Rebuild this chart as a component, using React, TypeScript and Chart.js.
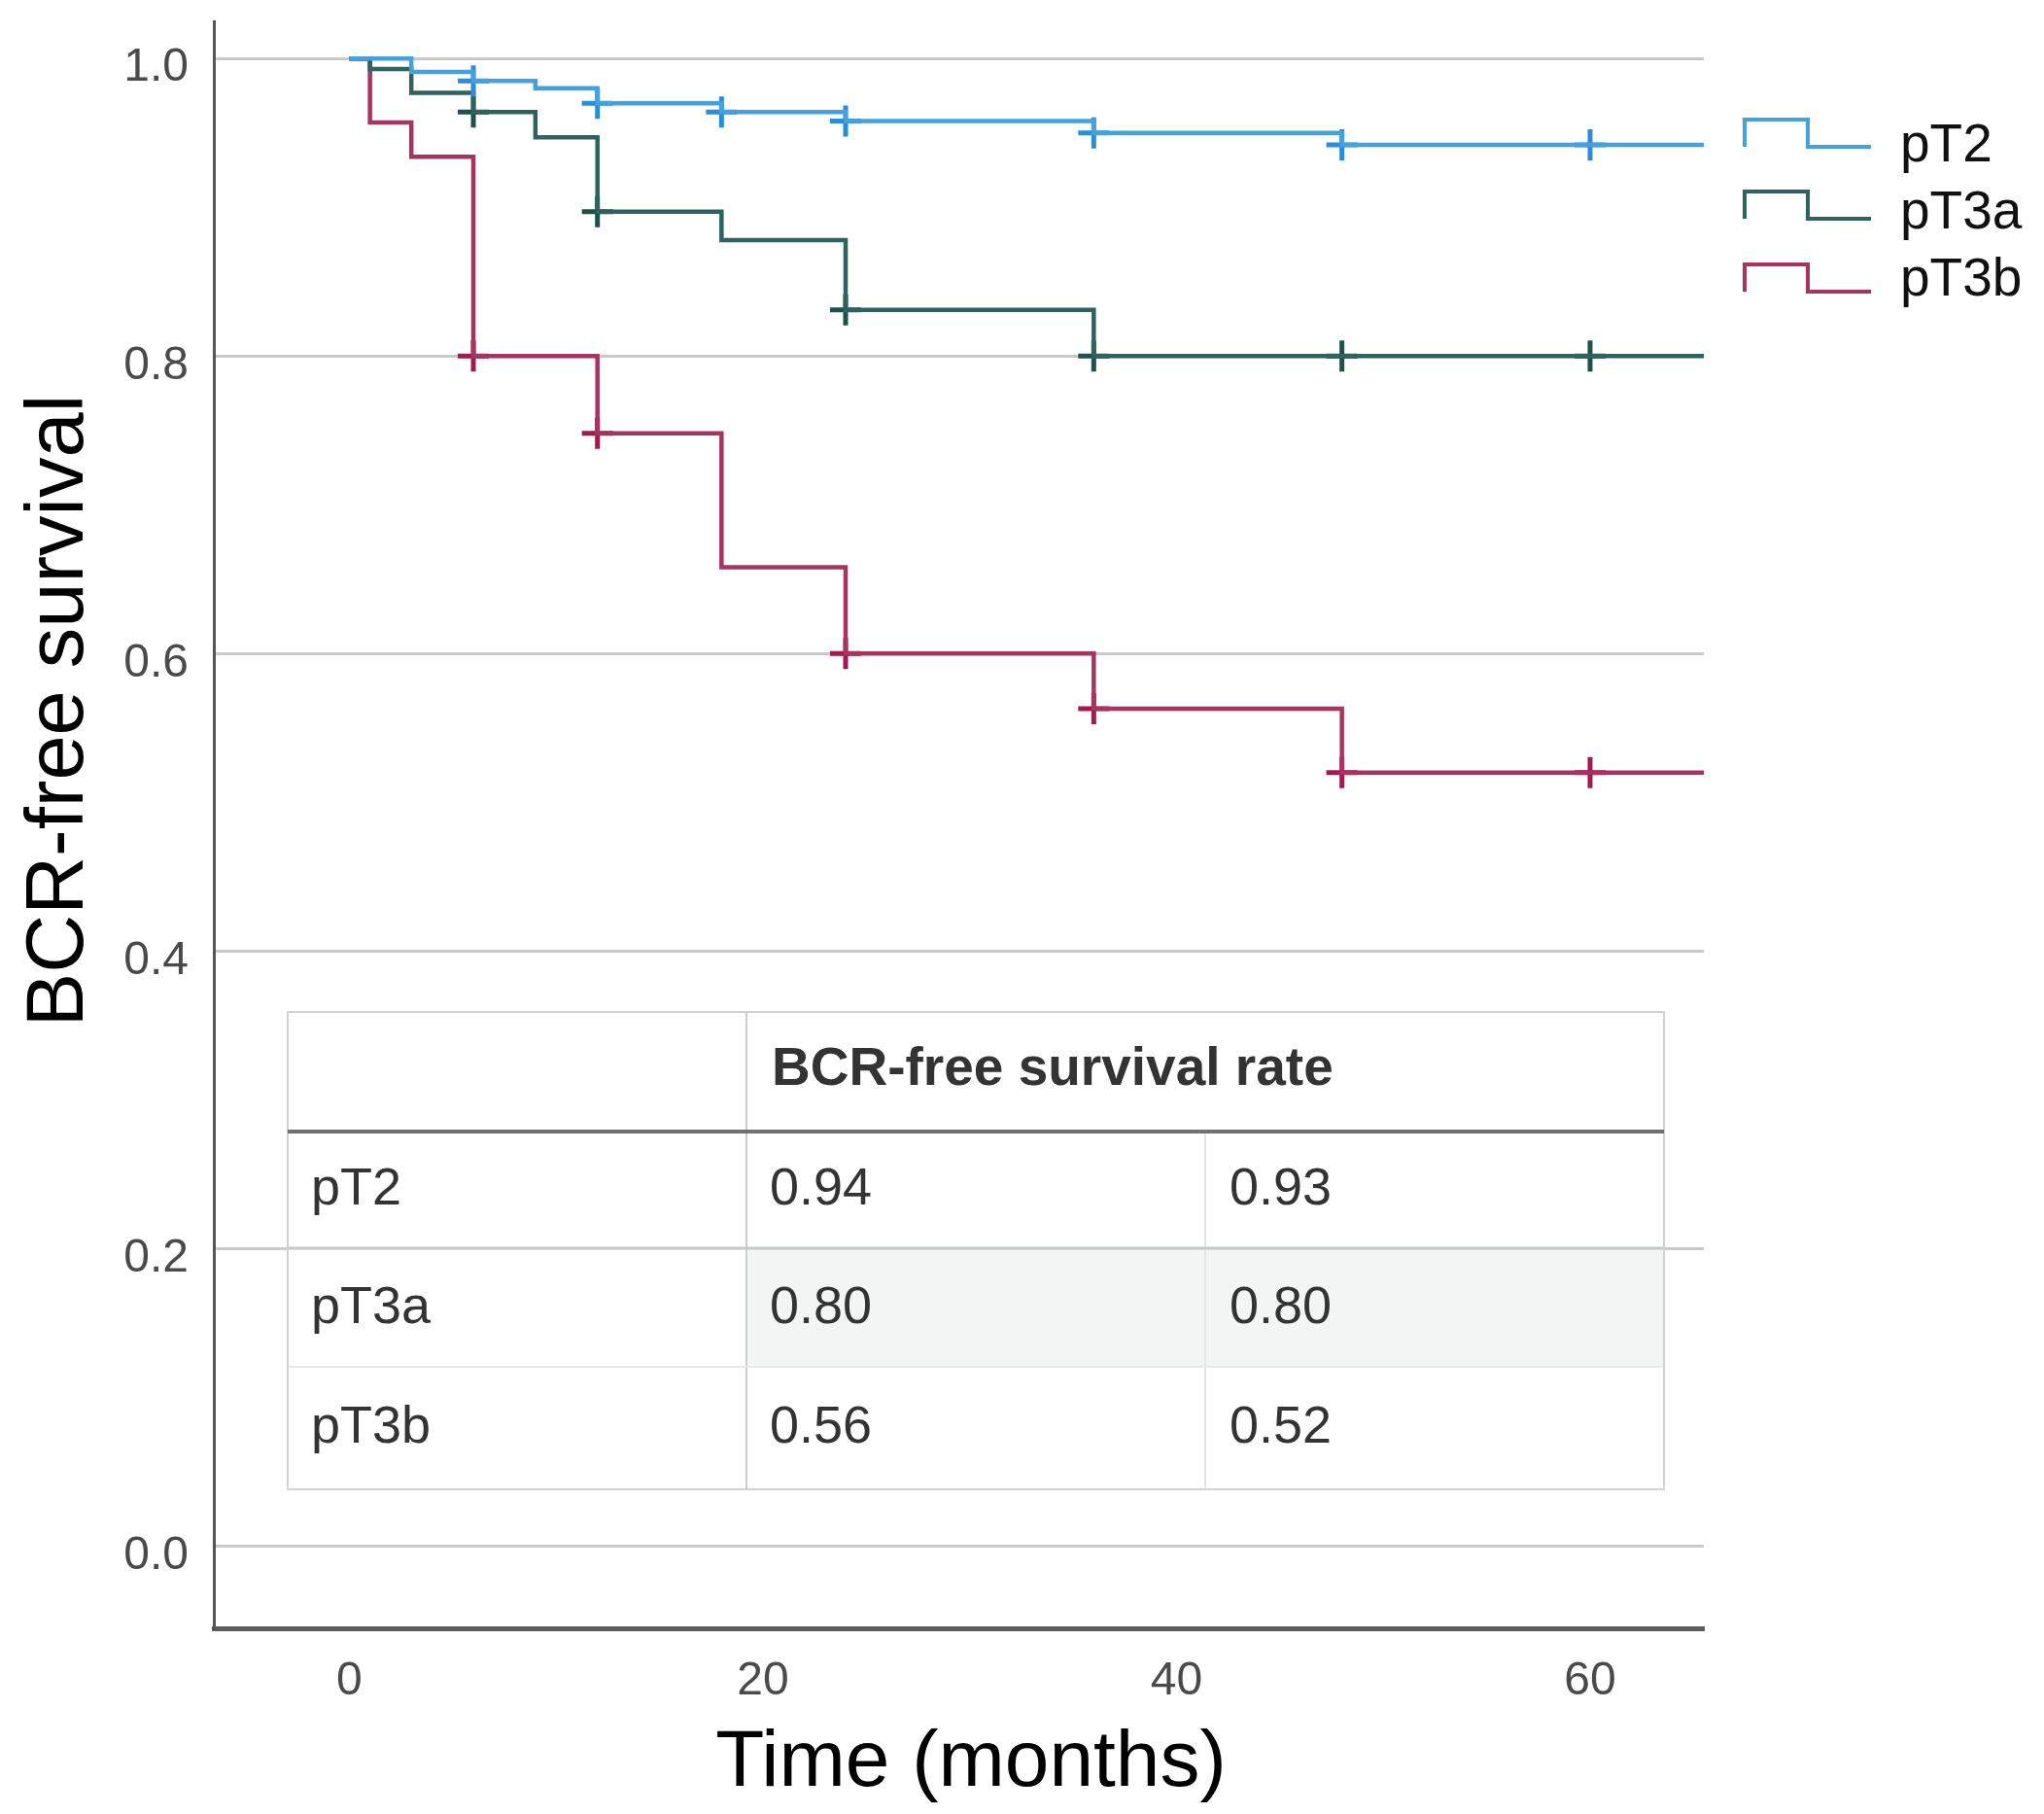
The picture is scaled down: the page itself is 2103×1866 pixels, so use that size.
import React, { useEffect, useRef } from 'react';
import { Chart, registerables } from 'chart.js';

Chart.register(...registerables);

const W = 2103;
const H = 1866;

// ---------- data ----------
const seriesNames = ['pT2', 'pT3a', 'pT3b'];
const lineColors = ['#45a0dc', '#2d625d', '#a5345f'];
const markColors = ['#2a8ddb', '#1f514b', '#a3184e'];

const pT2Times = [0, 3, 6, 9, 12, 18, 24, 36, 48, 65.5];
const pT2Surv = [1.0, 0.991, 0.985, 0.98, 0.97, 0.964, 0.958, 0.95, 0.942, 0.942];
const pT2Censor = [6, 12, 18, 24, 36, 48, 60];

const pT3aTimes = [0, 1, 3, 6, 9, 12, 18, 24, 36, 65.5];
const pT3aSurv = [1.0, 0.993, 0.977, 0.964, 0.947, 0.897, 0.878, 0.831, 0.8, 0.8];
const pT3aCensor = [6, 12, 24, 36, 48, 60];

const pT3bTimes = [0, 1, 3, 6, 12, 18, 24, 36, 48, 65.5];
const pT3bSurv = [1.0, 0.957, 0.934, 0.8, 0.748, 0.658, 0.6, 0.563, 0.52, 0.52];
const pT3bCensor = [6, 12, 24, 36, 48, 60];

const xTicks = [0, 20, 40, 60];
const yTicks = [0, 0.2, 0.4, 0.6, 0.8, 1.0];
const xTitle = 'Time (months)';
const yTitle = 'BCR-free survival';

const tableHeader = 'BCR-free survival rate';
const tableRowLabels = ['pT2', 'pT3a', 'pT3b'];
const tableRateA = ['0.94', '0.80', '0.56'];
const tableRateB = ['0.93', '0.80', '0.52'];

// ---------- helpers ----------
const FONT = '"Liberation Sans", Arial, Helvetica, sans-serif';

function survAt(times: number[], surv: number[], t: number) {
  let v = surv[0];
  for (let i = 0; i < times.length; i++) if (times[i] <= t) v = surv[i];
  return v;
}

const curves = [
  { t: pT2Times, s: pT2Surv, c: pT2Censor },
  { t: pT3aTimes, s: pT3aSurv, c: pT3aCensor },
  { t: pT3bTimes, s: pT3bSurv, c: pT3bCensor },
];

const overlayPlugin = {
  id: 'overlay',
  afterDraw(chart: any) {
    const ctx: CanvasRenderingContext2D = chart.ctx;
    ctx.save();

    // ----- table -----
    const tL = 296, tR = 1712, tT = 1041, hB = 1164;
    const rowLines = [1164, 1284, 1406, 1532];
    const c1 = 768, c2 = 1240;
    ctx.fillStyle = '#ffffff';
    ctx.fillRect(tL, tT, tR - tL, rowLines[3] - tT);
    ctx.fillStyle = '#f2f5f4';
    ctx.fillRect(c1, rowLines[1], tR - c1, rowLines[2] - rowLines[1]);

    const line = (x1: number, y1: number, x2: number, y2: number, col: string, w: number) => {
      ctx.beginPath();
      ctx.strokeStyle = col;
      ctx.lineWidth = w;
      ctx.moveTo(x1, y1);
      ctx.lineTo(x2, y2);
      ctx.stroke();
    };
    line(c1, tT, c1, rowLines[3], '#cdcdcd', 2);
    line(c2, hB, c2, rowLines[3], '#e6e6e6', 2);
    line(tL, rowLines[1], tR, rowLines[1], '#c6c6c6', 3);
    line(tL, rowLines[2], tR, rowLines[2], '#e8e8e8', 2);
    ctx.strokeStyle = '#d2d2d2';
    ctx.lineWidth = 2;
    ctx.strokeRect(tL, tT, tR - tL, rowLines[3] - tT);
    line(tL, hB, tR, hB, '#707070', 4);

    ctx.fillStyle = '#333333';
    ctx.textBaseline = 'middle';
    ctx.textAlign = 'left';
    ctx.font = `bold 55px ${FONT}`;
    ctx.fillText(tableHeader, 794, 1101);
    ctx.font = `54px ${FONT}`;
    const rowCenters = [1224, 1346, 1469];
    tableRowLabels.forEach((lab, i) => {
      ctx.fillText(lab, 320, rowCenters[i]);
      ctx.fillText(tableRateA[i], 792, rowCenters[i]);
      ctx.fillText(tableRateB[i], 1265, rowCenters[i]);
    });

    // ----- legend -----
    const iconTops = [123, 197, 272];
    const labelBase = [166, 235, 304];
    seriesNames.forEach((name, i) => {
      const y0 = iconTops[i];
      const y1 = y0 + 28;
      ctx.beginPath();
      ctx.strokeStyle = lineColors[i];
      ctx.lineWidth = 4;
      ctx.moveTo(1795, y1);
      ctx.lineTo(1795, y0);
      ctx.lineTo(1860, y0);
      ctx.lineTo(1860, y1);
      ctx.lineTo(1925, y1);
      ctx.stroke();
      ctx.fillStyle = '#111111';
      ctx.font = `55px ${FONT}`;
      ctx.textBaseline = 'alphabetic';
      ctx.textAlign = 'left';
      ctx.fillText(name, 1955, labelBase[i]);
    });

    // ----- axis titles -----
    ctx.fillStyle = '#000000';
    ctx.font = `82px ${FONT}`;
    ctx.textAlign = 'center';
    ctx.textBaseline = 'alphabetic';
    ctx.fillText(xTitle, 999, 1837);

    ctx.save();
    ctx.translate(85, 731);
    ctx.rotate(-Math.PI / 2);
    ctx.font = `83px ${FONT}`;
    ctx.fillText(yTitle, 0, 0);
    ctx.restore();

    ctx.restore();
  },
};

export default function App() {
  const ref = useRef<HTMLCanvasElement | null>(null);

  useEffect(() => {
    if (!ref.current) return;
    const datasets: any[] = [];
    curves.forEach((cv, i) => {
      datasets.push({
        label: seriesNames[i],
        data: cv.t.map((t, k) => ({ x: t, y: cv.s[k] })),
        borderColor: lineColors[i],
        borderWidth: 4.5,
        pointRadius: 0,
        stepped: 'before',
        fill: false,
        order: i,
      });
    });
    curves.forEach((cv, i) => {
      datasets.push({
        label: seriesNames[i] + ' censored',
        data: cv.c.map((t) => ({ x: t, y: survAt(cv.t, cv.s, t) })),
        showLine: false,
        pointStyle: 'cross',
        pointRadius: 16,
        pointBorderWidth: 5,
        pointBorderColor: markColors[i],
        pointBackgroundColor: markColors[i],
        order: i,
      });
    });

    const chart = new Chart(ref.current, {
      type: 'line',
      data: { datasets },
      plugins: [overlayPlugin],
      options: {
        animation: false,
        responsive: false,
        devicePixelRatio: 1,
        layout: { padding: { top: 22, right: W - 1753, left: 0, bottom: 0 } },
        plugins: {
          legend: { display: false },
          tooltip: { enabled: false },
          title: { display: false },
        },
        scales: {
          x: {
            type: 'linear',
            min: -6.55,
            max: 65.5,
            afterBuildTicks: (s: any) => {
              s.ticks = xTicks.map((v) => ({ value: v }));
            },
            afterFit: (s: any) => {
              s.height = H - 1675;
              s.paddingLeft = 0;
              s.paddingRight = 0;
            },
            grid: { display: false, drawTicks: false },
            border: { display: true, color: '#5c5c5c', width: 5 },
            ticks: {
              font: { family: FONT, size: 48 },
              color: '#4a4a4a',
              padding: 26,
              maxRotation: 0,
            },
          },
          y: {
            type: 'linear',
            min: -0.0553,
            max: 1.025,
            afterBuildTicks: (s: any) => {
              s.ticks = yTicks.map((v) => ({ value: v }));
            },
            afterFit: (s: any) => {
              s.width = 220;
              s.paddingTop = 0;
              s.paddingBottom = 0;
            },
            grid: { display: true, color: '#c9c9c9', lineWidth: 3, drawTicks: false },
            border: { display: true, color: '#555555', width: 3 },
            ticks: {
              font: { family: FONT, size: 48 },
              color: '#4a4a4a',
              padding: 26,
              labelOffset: 10,
              callback: (v: any) => Number(v).toFixed(1),
            },
          },
        },
      },
    } as any);
    return () => chart.destroy();
  }, []);

  return (
    <div style={{ position: 'absolute', left: 0, top: 0, width: W, height: H, background: '#fff' }}>
      <canvas ref={ref} width={W} height={H} style={{ display: 'block', width: W, height: H }} />
    </div>
  );
}
